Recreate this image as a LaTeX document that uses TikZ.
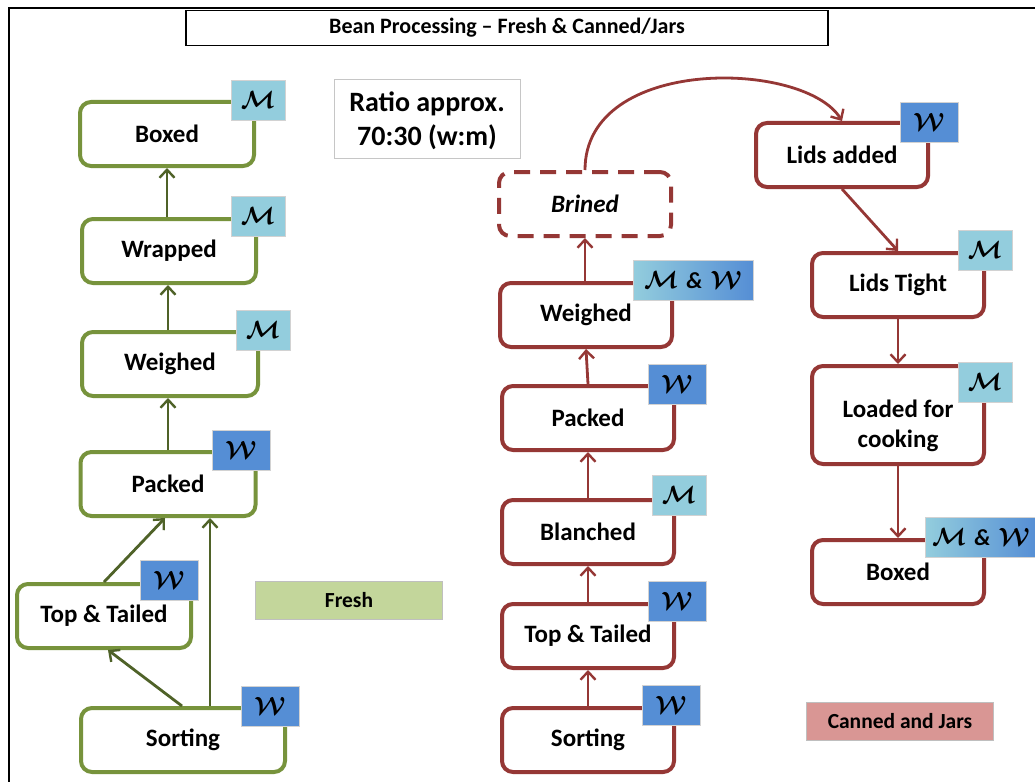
\documentclass[tikz,border=0pt]{standalone}
\usepackage{fontspec}
\setmainfont{Carlito}
\usetikzlibrary{arrows.meta,positioning}

\definecolor{freshline}{HTML}{77933C}
\definecolor{freshlink}{HTML}{4F6228}
\definecolor{freshfill}{HTML}{C3D69B}
\definecolor{cannedline}{HTML}{953735}
\definecolor{cannedfill}{HTML}{D99694}
\definecolor{menbadge}{HTML}{93CDDD}
\definecolor{womenbadge}{HTML}{558ED5}

\tikzset{
  x=1pt, y=-1pt,
  every node/.style={font=\bfseries\fontsize{25}{30}\selectfont, align=center},
  procbox/.style={draw, rounded corners=11pt, line width=4pt, fill=white,
    inner sep=0pt, minimum width=#1, minimum height=64pt},
  procbox/.default=172pt,
  freshbox/.style={procbox=#1, draw=freshline},
  freshbox/.default=172pt,
  cannedbox/.style={procbox=#1, draw=cannedline},
  cannedbox/.default=172pt,
  badge/.style={draw=gray!35, line width=0.6pt, inner sep=0pt,
    minimum height=40pt, font=\fontsize{23}{24}\selectfont\boldmath},
  mbadge/.style={badge, fill=menbadge, minimum width=54pt},
  wbadge/.style={badge, fill=womenbadge, minimum width=58pt},
  mwbadge/.style={badge, minimum width=#1, left color=menbadge,
    middle color=menbadge, right color=womenbadge},
  freshlinkstyle/.style={draw=freshlink, line width=2.8pt,
    -{Straight Barb[length=8pt,width=15pt,line width=2.4pt]}},
  cannedlinkstyle/.style={draw=cannedline, line width=2.8pt,
    -{Straight Barb[length=8pt,width=15pt,line width=2.4pt]}},
  legend/.style={draw=gray!50, line width=0.6pt, inner sep=0pt,
    minimum height=38pt, minimum width=187pt,
    font=\bfseries\fontsize{21.5}{24}\selectfont}
}

\newcommand{\menM}{$\mathcal{M}$}
\newcommand{\womenW}{$\mathcal{W}$}
\newcommand{\bothMW}{$\mathcal{M}$\hspace{0.35em}{\bfseries\itshape\&}\hspace{0.35em}$\mathcal{W}$}

\begin{document}
\begin{tikzpicture}
\useasboundingbox (0,0) rectangle (1035,781);
\fill[white] (0,0) rectangle (1035,781);

% page frame
\draw[line width=2.4pt, line cap=rect] (9,781) -- (9,8) -- (1035,8);

% title
\node[draw=black, line width=1.2pt, minimum width=642pt, minimum height=35pt,
  inner sep=0pt, font=\bfseries\fontsize{22}{24}\selectfont]
  (title) at (507,28) {Bean Processing – Fresh \& Canned/Jars};

% ratio note
\node[draw=gray!45, line width=0.8pt, minimum width=186pt, minimum height=79pt,
  inner sep=0pt] (ratio) at (427,119) {};
\node[font=\bfseries\fontsize{28}{34}\selectfont] (ratiotext) at (427,121)
  {Ratio approx.\\70:30 (w:m)};

% ---------- fresh line ----------
\node[freshbox=174pt] (fboxed)   at (167,134) {Boxed};
\node[freshbox=174pt] (fwrapped) at (169,251) {Wrapped};
\node[freshbox=176pt] (fweighed) at (170,364) {Weighed};
\node[freshbox=175pt] (fpacked)  at (168,484) {Packed};
\node[freshbox=174pt] (ftop)     at (104,616) {Top \& Tailed};
\node[freshbox=204pt] (fsort)    at (183,740) {Sorting};

\node[mbadge] (fboxedb)   at (258,100) {\menM};
\node[mbadge] (fwrappedb) at (258,216) {\menM};
\node[mbadge] (fweighedb) at (263,330) {\menM};
\node[wbadge] (fpackedb)  at (241,450) {\womenW};
\node[wbadge] (ftopb)     at (169,580) {\womenW};
\node[wbadge] (fsortb)    at (270,706) {\womenW};

\draw[freshlinkstyle] (fwrapped.north -| 167,0) -- (fboxed.south -| 167,0);
\draw[freshlinkstyle] (fweighed.north -| 168,0) -- (fwrapped.south -| 168,0);
\draw[freshlinkstyle] (fpacked.north -| 168,0) -- (fweighed.south -| 168,0);
\draw[freshlinkstyle] (ftop.north -| 104,0) -- (fpacked.south -| 165,0);
\draw[freshlinkstyle] (fsort.north -| 210,0) -- (fpacked.south -| 210,0);
\draw[freshlinkstyle] (fsort.north -| 182,0) -- (ftop.south -| 108,0);

\node[legend, fill=freshfill] (freshkey) at (349,600) {Fresh};

% ---------- canned and jars line ----------
\node[cannedbox, dashed, dash pattern=on 16pt off 10pt, font=\bfseries\itshape\fontsize{25}{30}\selectfont]
  (cbrined) at (585,204) {Brined};
\node[cannedbox] (cweighed) at (586,315) {Weighed};
\node[cannedbox] (cpacked)  at (588,418) {Packed};
\node[cannedbox] (cblanch)  at (588,532) {Blanched};
\node[cannedbox] (ctop)     at (588,636) {Top \& Tailed};
\node[cannedbox] (csort)    at (588,740) {Sorting};

\node[mwbadge=120pt] (cweighedb) at (693,280) {\bothMW};
\node[wbadge] (cpackedb) at (677,384) {\womenW};
\node[mbadge] (cblanchb) at (679,495) {\menM};
\node[wbadge] (ctopb)    at (677,601) {\womenW};
\node[wbadge] (csortb)   at (671,705) {\womenW};

\node[cannedbox] (clids)   at (842,155) {Lids added};
\node[cannedbox] (ctight)  at (898,285) {Lids Tight};
\node[cannedbox, minimum height=98pt] (cload) at (898,415) {};
\node (cloadtext) at (898,426) {Loaded for\\cooking};
\node[cannedbox] (cboxed)  at (898,572) {Boxed};

\node[wbadge] (clidsb)   at (929,122) {\womenW};
\node[mbadge] (ctightb)  at (985,250) {\menM};
\node[mbadge] (cloadb)   at (985,382) {\menM};
\node[mwbadge=112pt] (cboxedb) at (981,537) {\bothMW};

\draw[cannedlinkstyle] (csort.north) -- (ctop.south);
\draw[cannedlinkstyle] (ctop.north) -- (cblanch.south);
\draw[cannedlinkstyle] (cblanch.north) -- (cpacked.south);
\draw[cannedlinkstyle] (cpacked.north) -- (cweighed.south);
\draw[cannedlinkstyle] (cweighed.north -| 585,0) -- (cbrined.south);
\draw[cannedlinkstyle] (cbrined.north) .. controls (585,55) and (805,60) .. (clids.north);
\draw[cannedlinkstyle] (clids.south) -- (ctight.north);
\draw[cannedlinkstyle] (ctight.south) -- (cload.north);
\draw[cannedlinkstyle] (cload.south) -- (cboxed.north);

\node[legend, fill=cannedfill] (cannedkey) at (900,721) {Canned and Jars};

\end{tikzpicture}
\end{document}
